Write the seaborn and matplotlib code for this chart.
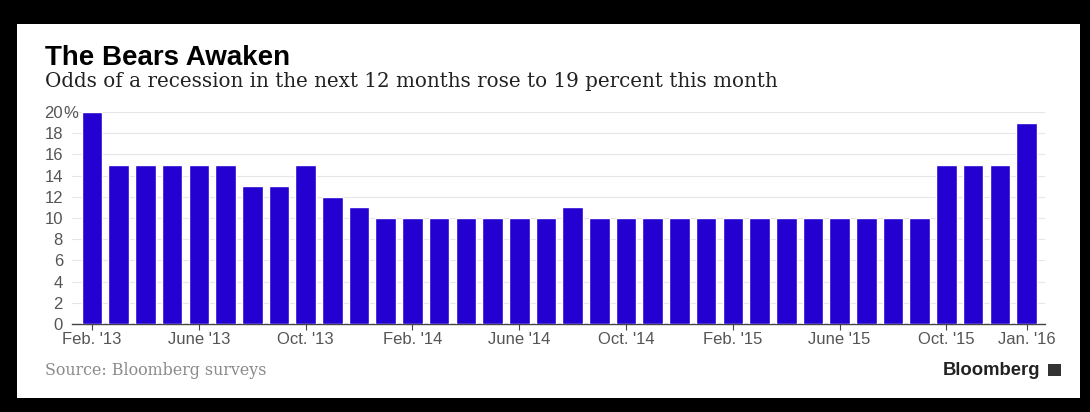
import matplotlib
matplotlib.use("Agg")
import matplotlib.pyplot as plt
import matplotlib.transforms as mtransforms
from matplotlib.patches import Rectangle
import seaborn as sns
import pandas as pd

months = ["Feb. '13", "Mar. '13", "Apr. '13", "May '13", "June '13", "July '13",
          "Aug. '13", "Sept. '13", "Oct. '13", "Nov. '13", "Dec. '13", "Jan. '14",
          "Feb. '14", "Mar. '14", "Apr. '14", "May '14", "June '14", "July '14",
          "Aug. '14", "Sept. '14", "Oct. '14", "Nov. '14", "Dec. '14", "Jan. '15",
          "Feb. '15", "Mar. '15", "Apr. '15", "May '15", "June '15", "July '15",
          "Aug. '15", "Sept. '15", "Oct. '15", "Nov. '15", "Dec. '15", "Jan. '16"]
odds = [20, 15, 15, 15, 15, 15, 13, 13, 15, 12, 11, 10,
        10, 10, 10, 10, 10, 10, 11, 10, 10, 10, 10, 10,
        10, 10, 10, 10, 10, 10, 10, 10, 15, 15, 15, 19]
shown_ticks = ["Feb. '13", "June '13", "Oct. '13", "Feb. '14", "June '14",
               "Oct. '14", "Feb. '15", "June '15", "Oct. '15", "Jan. '16"]
y_ticks = [0, 2, 4, 6, 8, 10, 12, 14, 16, 18, 20]

title = "The Bears Awaken"
subtitle = "Odds of a recession in the next 12 months rose to 19 percent this month"
source = "Source: Bloomberg surveys"

df = pd.DataFrame({"month": months, "odds": odds})

sns.set_theme(style="white")
W, H = 1090, 412
fig = plt.figure(figsize=(W / 100, H / 100), dpi=100)
fig.patch.set_facecolor("black")
fig.patches.append(Rectangle((17 / W, 14 / H), (1080 - 17) / W, (398 - 24) / H,
                             transform=fig.transFigure, facecolor="white",
                             edgecolor="none", zorder=-10))

ax = fig.add_axes([72 / W, 88 / H, (1045 - 72) / W, (324 - 112) / H])
ax.set_zorder(5)
ax.set_facecolor("none")
sns.barplot(data=df, x="month", y="odds", order=months, color="#2400d1",
            saturation=1, width=0.77, ax=ax, zorder=3)

ax.set_xlim(-0.75, len(months) - 1 + 0.69)
ax.set_ylim(0, 20)
ax.set_yticks(y_ticks)
ax.set_yticklabels([str(v) for v in y_ticks])
pos = [months.index(m) for m in shown_ticks]
ax.set_xticks(pos)
ax.set_xticklabels(shown_ticks)
ax.set_xlabel("")
ax.set_ylabel("")

for s in ["top", "right", "left"]:
    ax.spines[s].set_visible(False)
ax.spines["bottom"].set_color("#444444")
ax.spines["bottom"].set_linewidth(1.0)
ax.yaxis.grid(True, color="#e6e6e6", linewidth=0.8, zorder=0)
ax.set_axisbelow(True)
ax.tick_params(axis="x", which="both", bottom=True, length=4, width=0.8,
               color="#444444", labelsize=12, labelcolor="#555555", pad=2)
ax.tick_params(axis="y", left=False, length=0, labelsize=12,
               labelcolor="#555555", pad=6.5)
for lab in ax.get_xticklabels() + ax.get_yticklabels():
    lab.set_family("Liberation Sans")

# hanging percent sign on the top label
trans = mtransforms.blended_transform_factory(ax.transAxes, ax.transData)
ax.text(-9 / (1045 - 72), 20, "%", transform=trans, ha="left",
        va="center_baseline", fontsize=12, color="#555555",
        family="Liberation Sans")

fig.text(45 / W, 1 - 65 / H, title, fontsize=20, fontweight="bold",
         family="Liberation Sans", color="black", ha="left", va="baseline")
fig.text(45 / W, 1 - 87 / H, subtitle, fontsize=14.3, family="DejaVu Serif",
         color="#222222", ha="left", va="baseline")
fig.text(45 / W, 1 - 375 / H, source, fontsize=11.4, family="DejaVu Serif",
         color="#8a8a8a", ha="left", va="baseline")
fig.text(1040 / W, 1 - 375 / H, "Bloomberg", fontsize=13.3, fontweight="bold",
         family="Liberation Sans", color="#222222", ha="right", va="baseline")
fig.patches.append(Rectangle((1048 / W, 1 - 376 / H), 13 / W, 12 / H,
                             transform=fig.transFigure, facecolor="#333333",
                             edgecolor="none", zorder=5))

fig.savefig("out.png", dpi=100, facecolor=fig.get_facecolor())
